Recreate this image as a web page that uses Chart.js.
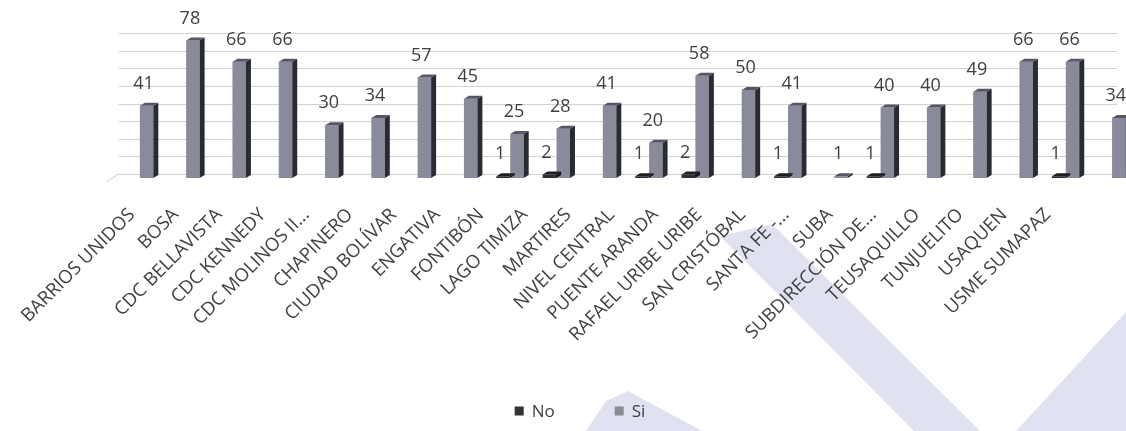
<!DOCTYPE html>
<html>
<head>
<meta charset="utf-8">
<title>Respuestas por localidad</title>
<script src="https://cdn.jsdelivr.net/npm/chart.js@4.4.1/dist/chart.umd.min.js"></script>
<style>
  html, body { margin: 0; padding: 0; background: #fff; overflow: hidden; }
  #contenedor { width: 1160px; height: 431px; position: relative; }
</style>
</head>
<body>
<div id="contenedor"><canvas id="grafica"></canvas></div>
<script>
// categorias del eje x
var localidades = [
  'BARRIOS UNIDOS', 'BOSA', 'CDC BELLAVISTA', 'CDC KENNEDY', 'CDC MOLINOS II...',
  'CHAPINERO', 'CIUDAD BOLÍVAR', 'ENGATIVA', 'FONTIBÓN', 'LAGO TIMIZA',
  'MARTIRES', 'NIVEL CENTRAL', 'PUENTE ARANDA', 'RAFAEL URIBE URIBE',
  'SAN CRISTÓBAL', 'SANTA FE -...', 'SUBA', 'SUBDIRECCIÓN DE...',
  'TEUSAQUILLO', 'TUNJUELITO', 'USAQUEN', 'USME SUMAPAZ'
];
var valoresNo = [null, null, null, null, null, null, null, null, 1, 2, null, 1, 2, null, 1, null, 1, null, null, null, 1, null];
var valoresSi = [41, 78, 66, 66, 30, 34, 57, 45, 25, 28, 41, 20, 58, 50, 41, 1, 40, 40, 49, 66, 66, 34];
var nombresSeries = ['No', 'Si'];
var ejeMax = 80;
var ejePaso = 10;

var fuente = '"Open Sans", "Noto Sans", sans-serif';
var gris = '#404040';

// marca de agua del documento escaneado
var marcaAgua = {
  id: 'marcaAgua',
  beforeDraw: function (chart) {
    var ctx = chart.ctx;
    ctx.save();
    ctx.fillStyle = 'rgba(200,203,230,0.55)';
    var formas = [
      [[720, 236], [772, 224], [980, 431], [914, 431]],
      [[586, 431], [606, 401], [628, 391], [702, 431]],
      [[1016, 431], [1126, 312], [1126, 431]]
    ];
    formas.forEach(function (f) {
      ctx.beginPath();
      ctx.moveTo(f[0][0], f[0][1]);
      for (var i = 1; i < f.length; i++) ctx.lineTo(f[i][0], f[i][1]);
      ctx.closePath();
      ctx.fill();
    });
    ctx.restore();
  }
};

// lineas de la pared del fondo (desplazadas por la profundidad 3D)
var pared = {
  id: 'pared',
  beforeDatasetsDraw: function (chart) {
    var ctx = chart.ctx, a = chart.chartArea, y = chart.scales.y;
    ctx.save();
    ctx.strokeStyle = '#d2d2d2';
    ctx.lineWidth = 1;
    for (var v = 0; v <= ejeMax; v += ejePaso) {
      var py = Math.round(y.getPixelForValue(v) - 4) + 0.5;
      ctx.beginPath();
      ctx.moveTo(a.left + 2, py);
      ctx.lineTo(a.right - 18, py);
      ctx.stroke();
    }
    ctx.strokeStyle = '#c8c8c8';
    ctx.beginPath();
    ctx.moveTo(a.left + 2, y.getPixelForValue(0) - 4);
    ctx.lineTo(a.left - 10, y.getPixelForValue(0) + 4);
    ctx.stroke();
    ctx.restore();
  }
};

// caras lateral y superior de cada barra
var profundidad = {
  id: 'profundidad',
  afterDatasetDraw: function (chart, args) {
    var ctx = chart.ctx;
    var ds = chart.data.datasets[args.index];
    var dx = 5, dy = 3;
    ctx.save();
    args.meta.data.forEach(function (barra, i) {
      if (ds.data[i] == null) return;
      var p = barra.getProps(['x', 'y', 'width', 'base'], true);
      var izq = p.x - p.width / 2, der = p.x + p.width / 2;
      ctx.fillStyle = ds.caraLateral;
      ctx.beginPath();
      ctx.moveTo(der, p.y);
      ctx.lineTo(der + dx, p.y - dy);
      ctx.lineTo(der + dx, p.base - dy);
      ctx.lineTo(der, p.base);
      ctx.closePath();
      ctx.fill();
      ctx.fillStyle = ds.caraSuperior;
      ctx.beginPath();
      ctx.moveTo(izq, p.y);
      ctx.lineTo(izq + dx, p.y - dy);
      ctx.lineTo(der + dx, p.y - dy);
      ctx.lineTo(der, p.y);
      ctx.closePath();
      ctx.fill();
    });
    ctx.restore();
  }
};

// etiquetas de valor sobre las barras
var etiquetas = {
  id: 'etiquetas',
  afterDatasetsDraw: function (chart) {
    var ctx = chart.ctx;
    ctx.save();
    ctx.font = '18px ' + fuente;
    ctx.fillStyle = gris;
    ctx.textAlign = 'center';
    ctx.textBaseline = 'middle';
    chart.data.datasets.forEach(function (ds, d) {
      var meta = chart.getDatasetMeta(d);
      meta.data.forEach(function (barra, i) {
        var v = ds.data[i];
        if (v == null) return;
        var p = barra.getProps(['x', 'y'], true);
        ctx.fillText(String(v), p.x - 3, p.y - 22);
      });
    });
    ctx.restore();
  }
};

// leyenda inferior
var leyenda = {
  id: 'leyenda',
  afterDraw: function (chart) {
    var ctx = chart.ctx;
    ctx.save();
    ctx.font = '17px ' + fuente;
    ctx.textBaseline = 'middle';
    var caja = 9, hueco = 8, sep = 60, cy = 411;
    var anchos = chart.data.datasets.map(function (ds) {
      return caja + hueco + ctx.measureText(ds.label).width;
    });
    var total = anchos.reduce(function (s, w) { return s + w; }, 0) + sep * (anchos.length - 1);
    var x = chart.width / 2 - total / 2;
    chart.data.datasets.forEach(function (ds, i) {
      ctx.fillStyle = ds.colorLeyenda;
      ctx.fillRect(x, cy - caja / 2, caja, caja);
      ctx.fillStyle = gris;
      ctx.fillText(ds.label, x + caja + hueco, cy + 1);
      x += anchos[i] + sep;
    });
    ctx.restore();
  }
};

var ctx = document.getElementById('grafica').getContext('2d');
var grafica = new Chart(ctx, {
  type: 'bar',
  data: {
    labels: localidades,
    datasets: [{
      label: nombresSeries[0],
      data: valoresNo,
      backgroundColor: '#2f2f36',
      caraLateral: '#141418',
      caraSuperior: '#1e1e24',
      colorLeyenda: '#333338',
      categoryPercentage: 0.6,
      barPercentage: 0.97
    }, {
      label: nombresSeries[1],
      data: valoresSi,
      backgroundColor: '#898a9a',
      caraLateral: '#2a2a33',
      caraSuperior: '#55566a',
      colorLeyenda: '#8c8c94',
      categoryPercentage: 0.6,
      barPercentage: 0.97
    }]
  },
  options: {
    responsive: true,
    maintainAspectRatio: false,
    animation: false,
    layout: { padding: { left: 116.5, right: 25, top: 37, bottom: 0 } },
    plugins: {
      legend: { display: false },
      tooltip: { enabled: false }
    },
    scales: {
      // eje de las barras
      x: {
        display: false
      },
      // eje de los rotulos, en el plano frontal (mas estrecho que el fondo)
      rotulos: {
        type: 'linear',
        position: 'bottom',
        bounds: 'data',
        offset: false,
        min: -0.356,
        max: 23.0,
        grid: { display: false, offset: false },
        border: { display: false },
        afterBuildTicks: function (s) {
          s.ticks = localidades.map(function (n, i) { return { value: i }; });
        },
        ticks: {
          autoSkip: false,
          includeBounds: false,
          maxRotation: 45,
          minRotation: 45,
          padding: 18,
          color: gris,
          font: { family: fuente, size: 18.5 },
          callback: function (v) { return localidades[v]; }
        },
        afterFit: function (s) { s.height = 431 - 178; }
      },
      y: {
        display: false,
        min: 0,
        max: ejeMax,
        ticks: { stepSize: ejePaso }
      }
    }
  },
  plugins: [marcaAgua, pared, profundidad, etiquetas, leyenda]
});
</script>
</body>
</html>
